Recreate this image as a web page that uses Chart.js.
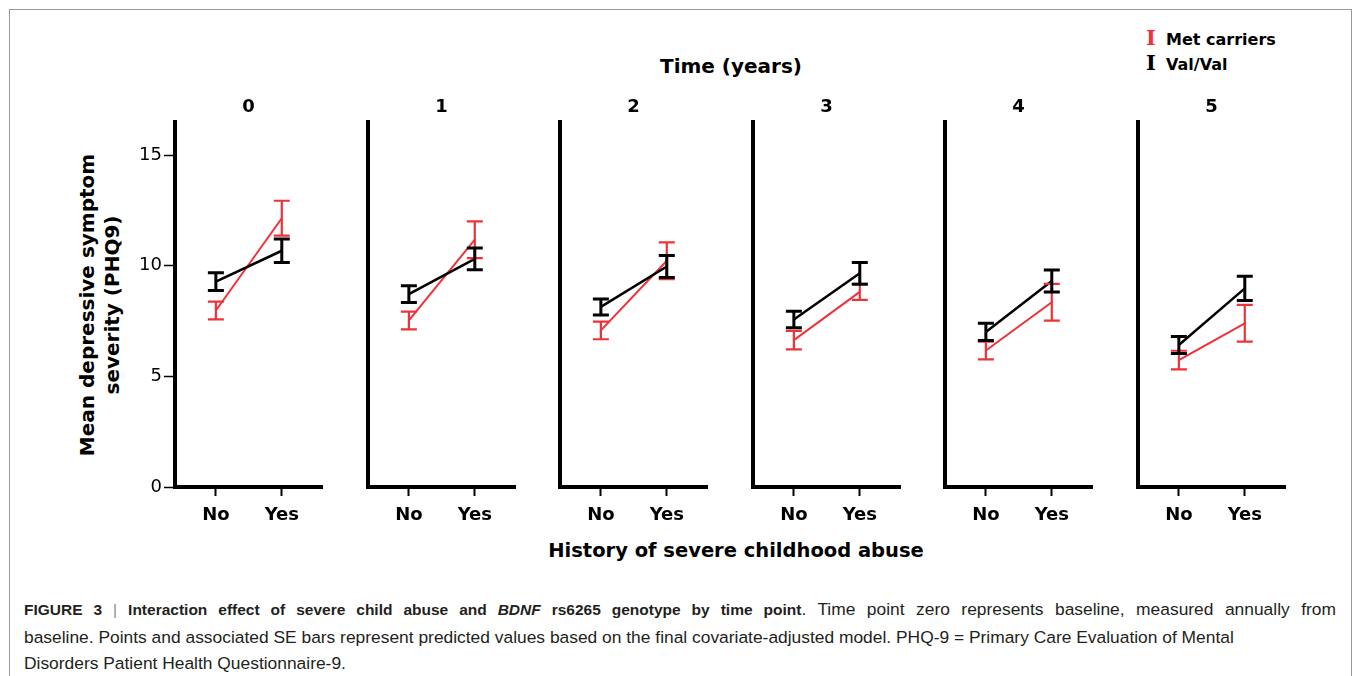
<!DOCTYPE html>
<html>
<head>
<meta charset="utf-8">
<script src="https://cdn.jsdelivr.net/npm/chart.js@4.4.1/dist/chart.umd.min.js"></script>
<style>
  body { margin: 0; background: #fff; }
  #fig { position: relative; width: 1360px; height: 676px; overflow: hidden; font-family: 'DejaVu Sans', sans-serif; }
  #frame { position: absolute; left: 9px; top: 9px; width: 1343px; height: 680px; border: 1px solid #999; box-sizing: border-box; }
  .panel { position: absolute; }
  .lbl { position: absolute; font-weight: bold; color: #000; white-space: nowrap; }
  #ytitle { left: -65px; top: 280px; width: 330px; font-size: 20px; line-height: 25px; text-align: center; transform: rotate(-90deg); }
  #legend { left: 1146px; top: 26px; font-size: 16px; line-height: 23px; }
  #legend .bar { display: inline-block; width: 20px; font-family: 'DejaVu Serif', serif; font-size: 21px; }
  #caption { position: absolute; left: 24px; top: 596px; width: 1312px; font-family: 'Liberation Sans', sans-serif; font-size: 17.4px; line-height: 26.5px; color: #231f20; white-space: nowrap; }
  #caption .l1 { white-space: normal; text-align: justify; text-align-last: justify; }
  #caption .l1 b { font-size: 15.5px; }
  #caption .sep { font-weight: normal; color: #888; }
</style>
</head>
<body>
<div id="fig">
  <div id="frame"></div>
  <div class="lbl" style="left:631px; top:54px; width:200px; text-align:center; font-size:20px;">Time (years)</div>
  <div class="lbl" id="legend">
    <div><span class="bar" style="color:#ee3238;">I</span>Met carriers</div>
    <div><span class="bar" style="color:#000;">I</span>Val/Val</div>
  </div>
  <div class="lbl" id="ytitle">Mean depressive symptom<br>severity (PHQ9)</div>
  <div class="lbl" style="left:536px; top:539px; width:400px; text-align:center; font-size:19.5px;">History of severe childhood abuse</div>
  <div id="caption">
    <div class="l1"><b>FIGURE 3 <span class="sep">|</span> Interaction effect of severe child abuse and <i>BDNF</i> rs6265 genotype by time point</b>. Time point zero represents baseline, measured annually from</div>
    <div>baseline. Points and associated SE bars represent predicted values based on the final covariate-adjusted model. PHQ-9 = Primary Care Evaluation of Mental</div>
    <div>Disorders Patient Health Questionnaire-9.</div>
  </div>
</div>
<script>
// data
const times = ['0', '1', '2', '3', '4', '5'];
const abuse = ['No', 'Yes'];
const yTicks = [0, 5, 10, 15];

const metNo = [7.98, 7.53, 7.08, 6.64, 6.17, 5.74];
const metNoSE = [0.40, 0.40, 0.40, 0.42, 0.40, 0.42];
const metYes = [12.15, 11.18, 10.23, 8.82, 8.35, 7.40];
const metYesSE = [0.79, 0.83, 0.83, 0.36, 0.83, 0.83];

const valNo = [9.28, 8.72, 8.14, 7.57, 7.01, 6.42];
const valNoSE = [0.40, 0.38, 0.36, 0.37, 0.39, 0.38];
const valYes = [10.68, 10.31, 9.97, 9.66, 9.31, 8.98];
const valYesSE = [0.53, 0.49, 0.50, 0.49, 0.50, 0.55];

const RED = '#ee3238';
const BLACK = '#000000';

// draws SE bars from dataset.se using the chart's own y scale
const errorBars = {
  id: 'errorBars',
  afterDatasetsDraw(chart) {
    const ctx = chart.ctx;
    const yScale = chart.scales.y;
    // draw red first so black sits on top
    for (let d = chart.data.datasets.length - 1; d >= 0; d--) {
      const ds = chart.data.datasets[d];
      const meta = chart.getDatasetMeta(d);
      ctx.save();
      ctx.strokeStyle = ds.borderColor;
      ctx.lineWidth = ds.barWidth;
      meta.data.forEach((pt, j) => {
        const v = ds.data[j].y;
        const top = yScale.getPixelForValue(v + ds.se[j]);
        const bot = yScale.getPixelForValue(v - ds.se[j]);
        const x = pt.x;
        ctx.beginPath();
        ctx.moveTo(x, top); ctx.lineTo(x, bot);
        ctx.moveTo(x - 8, top); ctx.lineTo(x + 8, top);
        ctx.moveTo(x - 8, bot); ctx.lineTo(x + 8, bot);
        ctx.stroke();
      });
      ctx.restore();
    }
  }
};

const fig = document.getElementById('fig');

times.forEach((t, i) => {
  const axisX = 175 + i * 192.6;
  const canvas = document.createElement('canvas');
  canvas.className = 'panel';
  canvas.width = 215;
  canvas.height = 443;
  canvas.style.left = (axisX - 60) + 'px';
  canvas.style.top = '84px';
  fig.appendChild(canvas);

  new Chart(canvas.getContext('2d'), {
    type: 'line',
    data: {
      datasets: [
        {
          label: 'Val/Val',
          data: [{x: 0, y: valNo[i]}, {x: 1, y: valYes[i]}],
          se: [valNoSE[i], valYesSE[i]],
          borderColor: BLACK,
          borderWidth: 2.5,
          barWidth: 3,
          pointRadius: 0
        },
        {
          label: 'Met carriers',
          data: [{x: 0, y: metNo[i]}, {x: 1, y: metYes[i]}],
          se: [metNoSE[i], metYesSE[i]],
          borderColor: RED,
          borderWidth: 2,
          barWidth: 2.2,
          pointRadius: 0
        }
      ]
    },
    options: {
      responsive: false,
      animation: false,
      layout: { padding: { left: 0, right: 8, top: 0, bottom: 0 } },
      plugins: {
        legend: { display: false },
        tooltip: { enabled: false },
        title: {
          display: true,
          text: t,
          fullSize: false,
          color: '#000',
          font: { family: 'DejaVu Sans', size: 18, weight: 'bold', lineHeight: 1.2 },
          padding: { top: 13, bottom: 3.4 }
        }
      },
      scales: {
        x: {
          type: 'linear',
          min: -0.62,
          max: 1.61,
          afterBuildTicks: (scale) => { scale.ticks = [{value: 0}, {value: 1}]; },
          afterFit: (scale) => { scale.height = 40; },
          border: { display: true, width: 4, color: '#000' },
          grid: { drawOnChartArea: false, drawTicks: true, tickLength: 9, tickWidth: 2, tickColor: '#000' },
          ticks: {
            color: '#000',
            padding: 9,
            autoSkip: false,
            maxRotation: 0,
            font: { family: 'DejaVu Sans', size: 18, weight: 'bold' },
            callback: (v) => abuse[v]
          }
        },
        y: {
          min: 0,
          max: 16.5,
          afterBuildTicks: (scale) => { scale.ticks = i === 0 ? yTicks.map(v => ({value: v})) : []; },
          afterFit: (scale) => { scale.width = 60; },
          border: { display: true, width: 4, color: '#000' },
          grid: { display: i === 0, drawOnChartArea: false, drawTicks: true, tickLength: 11, tickWidth: 1.5, tickColor: '#000' },
          ticks: {
            display: i === 0,
            color: '#000',
            padding: 2,
            font: { family: 'DejaVu Sans', size: 18 }
          }
        }
      }
    },
    plugins: [errorBars]
  });
});
</script>
</body>
</html>
